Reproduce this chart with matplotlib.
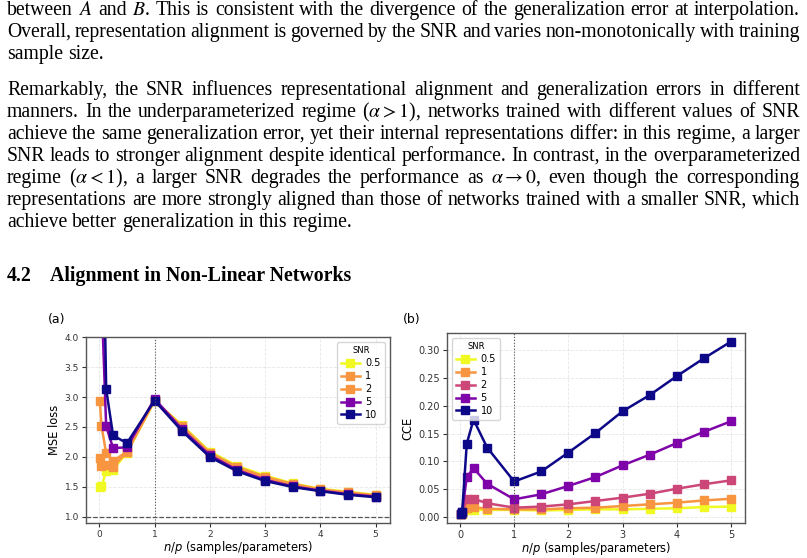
import re

import matplotlib
matplotlib.use("Agg")
import matplotlib.pyplot as plt

W, H = 807, 558

# ── data ─────────────────────────────────────────────────────────────────────
snr_labels = ["0.5", "1", "2", "5", "10"]
n_over_p = [0.01, 0.04, 0.125, 0.25, 0.5, 1, 1.5, 2, 2.5, 3, 3.5, 4, 4.5, 5]

mse_snr05 = [1.50, 1.51, 1.76, 1.79, 2.07, 2.93, 2.53, 2.09, 1.85, 1.69, 1.56, 1.47, 1.42, 1.37]
mse_snr1 = [1.98, 1.85, 1.87, 1.84, 2.08, 2.94, 2.51, 2.07, 1.83, 1.67, 1.55, 1.46, 1.41, 1.36]
mse_snr2 = [2.94, 2.52, 2.06, 1.93, 2.09, 2.95, 2.49, 2.05, 1.81, 1.65, 1.53, 1.45, 1.40, 1.35]
mse_snr5 = [5.20, 4.70, 2.51, 2.15, 2.16, 2.97, 2.46, 2.03, 1.78, 1.62, 1.51, 1.44, 1.38, 1.34]
mse_snr10 = [9.00, 7.50, 3.13, 2.36, 2.23, 2.94, 2.43, 2.00, 1.76, 1.60, 1.50, 1.43, 1.37, 1.33]

cce_snr05 = [0.005, 0.006, 0.012, 0.013, 0.013, 0.013, 0.012, 0.013, 0.014, 0.014, 0.015, 0.016, 0.018, 0.019]
cce_snr1 = [0.005, 0.007, 0.017, 0.018, 0.015, 0.014, 0.014, 0.016, 0.017, 0.020, 0.023, 0.026, 0.030, 0.033]
cce_snr2 = [0.005, 0.008, 0.032, 0.033, 0.025, 0.017, 0.019, 0.023, 0.029, 0.035, 0.042, 0.051, 0.059, 0.066]
cce_snr5 = [0.005, 0.010, 0.072, 0.088, 0.060, 0.032, 0.041, 0.056, 0.072, 0.093, 0.112, 0.133, 0.153, 0.172]
cce_snr10 = [0.005, 0.010, 0.132, 0.175, 0.125, 0.064, 0.082, 0.116, 0.151, 0.190, 0.219, 0.253, 0.285, 0.315]

colors_a = ["#f0f921", "#f89540", "#f89540", "#7e03a8", "#0d0887"]
colors_b = ["#f0f921", "#f89540", "#cc4778", "#7e03a8", "#0d0887"]

para1 = [
    "between $A$ and $B$. This is consistent with the divergence of the generalization error at interpolation.",
    "Overall, representation alignment is governed by the SNR and varies non-monotonically with training",
    "sample size.",
]
para2 = [
    "Remarkably, the SNR influences representational alignment and generalization errors in different",
    r"manners. In the underparameterized regime ($\alpha > 1$), networks trained with different values of SNR",
    "achieve the same generalization error, yet their internal representations differ: in this regime, a larger",
    "SNR leads to stronger alignment despite identical performance. In contrast, in the overparameterized",
    r"regime ($\alpha < 1$), a larger SNR degrades the performance as $\alpha \rightarrow 0$, even though the corresponding",
    "representations are more strongly aligned than those of networks trained with a smaller SNR, which",
    "achieve better generalization in this regime.",
]

fig = plt.figure(figsize=(W / 100, H / 100), dpi=100)
renderer = fig.canvas.get_renderer()


def px(x, y):
    return x / W, 1 - y / H


BODY_SIZE = 14.2
BODY = dict(family="Liberation Serif", size=BODY_SIZE, math_fontfamily="stix", va="baseline")


def text_line(line, y, x0=7, x1=800, justify=True):
    # justified paragraph line: place word by word
    tokens = re.findall(r"(?:\$[^$]*\$|\S)+", line)
    items = [fig.text(0, 0, tok, **BODY) for tok in tokens]
    widths = [t.get_window_extent(renderer).width for t in items]
    if justify and len(items) > 1:
        gap = (x1 - x0 - sum(widths)) / (len(items) - 1)
    else:
        gap = BODY_SIZE * 1.389 * 0.25
    x = x0
    for t, w in zip(items, widths):
        t.set_position(px(x, y))
        x += w + gap


for i, line in enumerate(para1):
    text_line(line, 15 + i * 22, justify=i < len(para1) - 1)
for i, line in enumerate(para2):
    text_line(line, 95 + i * 22, justify=i < len(para2) - 1)

fig.text(*px(7, 281), "4.2", family="Liberation Serif", weight="bold", size=14.3, va="baseline")
fig.text(*px(50, 281), "Alignment in Non-Linear Networks", family="Liberation Serif",
         weight="bold", size=14.3, va="baseline")

fig.text(*px(48, 319), "(a)", size=9, va="center")
fig.text(*px(403, 319), "(b)", size=9, va="center")


def style_axes(ax, tick_size):
    for s in ax.spines.values():
        s.set_color("#555555")
        s.set_linewidth(1.0)
    ax.tick_params(labelsize=tick_size, colors="#333333", length=3, pad=2)
    ax.grid(True, linestyle="--", linewidth=0.6, alpha=0.3)
    ax.axvline(1, color="#555555", linestyle=":", linewidth=0.8)
    ax.set_xlabel("$n/p$ (samples/parameters)", fontsize=8.3, labelpad=0)


LEG = dict(title="SNR", fontsize=7, title_fontsize=6, borderpad=0.45,
           labelspacing=0.3, handlelength=1.9, handletextpad=0.6)

# ── Panel (a): MSE loss ──────────────────────────────────────────────────────
ax1 = fig.add_axes([86 / W, 1 - 523 / H, (390 - 86) / W, (523 - 337) / H])
for ys, c, lab in zip([mse_snr05, mse_snr1, mse_snr2, mse_snr5, mse_snr10], colors_a, snr_labels):
    ax1.plot(n_over_p, ys, color=c, marker="s", markersize=5.5, linewidth=1.8, label=lab)
ax1.axhline(1.0, color="#555555", linestyle="--", linewidth=0.9)
ax1.set_ylim(0.9, 4.0)
ax1.set_xlim(-0.24, 5.26)
ax1.set_ylabel("MSE loss", fontsize=8.3, labelpad=3)
style_axes(ax1, 6.5)
ax1.legend(loc="upper right", **LEG)

# ── Panel (b): CCE ───────────────────────────────────────────────────────────
ax2 = fig.add_axes([447 / W, 1 - 523 / H, (745 - 447) / W, (523 - 333) / H])
for ys, c, lab in zip([cce_snr05, cce_snr1, cce_snr2, cce_snr5, cce_snr10], colors_b, snr_labels):
    ax2.plot(n_over_p, ys, color=c, marker="s", markersize=5.5, linewidth=1.8, label=lab)
ax2.set_xlim(-0.24, 5.26)
ax2.set_yticks([0.0, 0.05, 0.10, 0.15, 0.20, 0.25, 0.30])
ax2.set_ylabel("CCE", fontsize=8.3, labelpad=3)
style_axes(ax2, 7)
ax2.legend(loc="upper left", **LEG)

fig.savefig("out.png", dpi=100)
